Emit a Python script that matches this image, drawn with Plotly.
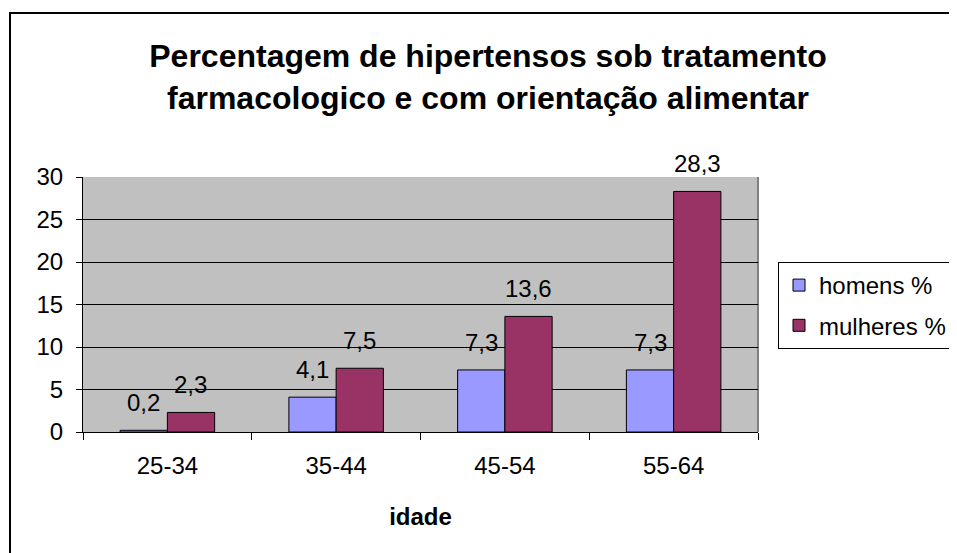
import plotly.graph_objects as go

categories = ["25-34", "35-44", "45-54", "55-64"]
homens = [0.2, 4.1, 7.3, 7.3]
mulheres = [2.3, 7.5, 13.6, 28.3]
y_ticks = [0, 5, 10, 15, 20, 25, 30]

FONT = "Liberation Sans, Arial, sans-serif"

# plot area in figure pixels
L, R, T, B = 75, 750, 169, 424
PW, PH = R - L, B - T

def fmt(v):
    return f"{v:.1f}".replace(".", ",")

fig = go.Figure()
fig.add_trace(go.Bar(name="homens %", x=categories, y=homens,
                     marker=dict(color="#9999FF", line=dict(color="black", width=1)),
                     legendgroup="a"))
fig.add_trace(go.Bar(name="mulheres %", x=categories, y=mulheres,
                     marker=dict(color="#993366", line=dict(color="black", width=1)),
                     legendgroup="b"))

annotations = []
for series, shift in ((homens, -23.6), (mulheres, 23.6)):
    for c, v in zip(categories, series):
        annotations.append(dict(x=c, y=v, xref="x", yref="y", text=fmt(v),
                                showarrow=False, xshift=shift, yshift=12,
                                yanchor="bottom", font=dict(family=FONT, size=24, color="black")))

fig.update_layout(
    width=957, height=553,
    margin=dict(l=L, r=957 - R, t=T, b=553 - B),
    paper_bgcolor="white", plot_bgcolor="#C0C0C0",
    barmode="group", bargap=0.44, bargroupgap=0,
    font=dict(family=FONT, size=24, color="black"),
    title=dict(text="<b>Percentagem de hipertensos sob tratamento<br>farmacologico e com orientação alimentar</b>",
               x=480 / 957, xanchor="center", y=1 - 59 / 553, yanchor="middle", yref="container",
               font=dict(family=FONT, size=32, color="black")),
    legend=dict(x=(770 - L) / PW, xanchor="left", y=(B - 254) / PH, yanchor="top",
                bordercolor="black", borderwidth=1, bgcolor="white",
                tracegroupgap=6, font=dict(family=FONT, size=24)),
    annotations=annotations,
    shapes=[dict(type="rect", xref="paper", yref="paper",
                 x0=(2 - L) / PW, x1=(955 - L) / PW,
                 y0=(B - 551) / PH, y1=(B - 5) / PH,
                 line=dict(color="black", width=2), layer="below"),
            dict(type="line", xref="paper", yref="paper", x0=1, x1=1, y0=0, y1=1,
                 line=dict(color="#808080", width=2), layer="below")],
)
fig.update_xaxes(showline=True, linecolor="black", linewidth=1,
                 ticks="outside", tickson="boundaries", ticklen=7, tickcolor="black",
                 ticklabelstandoff=12,
                 title=dict(text="<b>idade</b>", font=dict(family=FONT, size=24), standoff=30),
                 showgrid=False)
fig.update_yaxes(range=[0, 30], tickvals=y_ticks, showline=True, linecolor="black", linewidth=1,
                 ticks="outside", ticklen=6, tickcolor="black", ticklabelstandoff=8,
                 showgrid=True, gridcolor="black", gridwidth=1, zeroline=False)

fig.write_html("out.html")
